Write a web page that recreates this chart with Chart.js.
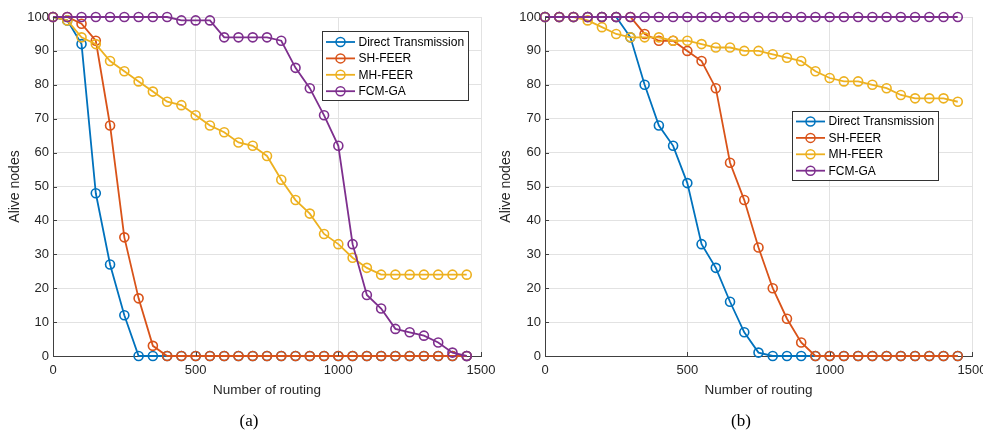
<!DOCTYPE html>
<html><head><meta charset="utf-8">
<script src="https://cdn.jsdelivr.net/npm/chart.js@4.4.1/dist/chart.umd.min.js"></script>
<style>
html,body{margin:0;padding:0;background:#fff;width:983px;height:432px;overflow:hidden;}
#wa{position:absolute;left:0;top:0;width:500px;height:432px;}
#wb{position:absolute;left:491px;top:0;width:492px;height:432px;}
.cap{position:absolute;font-family:"Liberation Serif","Times New Roman",serif;font-size:17px;line-height:20px;color:#000;top:411px;transform:translateX(-50%);}
</style></head><body>
<div id="wa"><canvas id="ca"></canvas></div>
<div id="wb"><canvas id="cb"></canvas></div>
<div class="cap" style="left:249px">(a)</div>
<div class="cap" style="left:741px">(b)</div>
<script>
const routing = [0,50,100,150,200,250,300,350,400,450,500,550,600,650,700,750,800,850,900,950,1000,1050,1100,1150,1200,1250,1300,1350,1400,1450];
const seriesNames = ['Direct Transmission','SH-FEER','MH-FEER','FCM-GA'];
const seriesColors = ['#0072BD','#D95319','#EDB120','#7E2F8E'];
const xTicks = [0,500,1000,1500];
const yTicks = [0,10,20,30,40,50,60,70,80,90,100];

// (a)
const directA = [100,99,92,48,27,12,0,0,0,0,0,0,0,0,0,0,0,0,0,0,0,0,0,0,0,0,0,0,0,0];
const shA     = [100,100,98,93,68,35,17,3,0,0,0,0,0,0,0,0,0,0,0,0,0,0,0,0,0,0,0,0,0,0];
const mhA     = [100,99,94,92,87,84,81,78,75,74,71,68,66,63,62,59,52,46,42,36,33,29,26,24,24,24,24,24,24,24];
const fcmA    = [100,100,100,100,100,100,100,100,100,99,99,99,94,94,94,94,93,85,79,71,62,33,18,14,8,7,6,4,1,0];
// (b)
const directB = [100,100,100,100,100,100,94,80,68,62,51,33,26,16,7,1,0,0,0,0,0,0,0,0,0,0,0,0,0,0];
const shB     = [100,100,100,100,100,100,100,95,93,93,90,87,79,57,46,32,20,11,4,0,0,0,0,0,0,0,0,0,0,0];
const mhB     = [100,100,100,99,97,95,94,94,94,93,93,92,91,91,90,90,89,88,87,84,82,81,81,80,79,77,76,76,76,75];
const fcmB    = [100,100,100,100,100,100,100,100,100,100,100,100,100,100,100,100,100,100,100,100,100,100,100,100,100,100,100,100,100,100];

const FONT = '"Liberation Sans", Arial, Helvetica, sans-serif';
const TXT = '#262626';

const mlPlugin = {
  id: 'ml',
  afterDraw(chart, args, opts) {
    const ctx = chart.ctx, xs = chart.scales.x, ys = chart.scales.y, a = chart.chartArea;
    ctx.save();
    ctx.strokeStyle = '#404040'; ctx.lineWidth = 1;
    ys.ticks.forEach(t => {
      const y = Math.round(ys.getPixelForValue(t.value)) + 0.5;
      ctx.beginPath(); ctx.moveTo(a.left, y); ctx.lineTo(a.left + 4, y); ctx.stroke();
    });
    xs.ticks.forEach(t => {
      const x = Math.round(xs.getPixelForValue(t.value)) + 0.5;
      ctx.beginPath(); ctx.moveTo(x, a.bottom); ctx.lineTo(x, a.bottom - 4); ctx.stroke();
    });
    // legend
    const L = opts.left, T = opts.top, W = 146, rowH = 16.4, H = 69;
    ctx.fillStyle = '#fff';
    ctx.fillRect(L, T, W, H);
    ctx.strokeStyle = '#333'; ctx.lineWidth = 1;
    ctx.strokeRect(Math.round(L) + 0.5, Math.round(T) + 0.5, W, H);
    ctx.font = '12px ' + FONT;
    ctx.textBaseline = 'middle'; ctx.textAlign = 'left';
    chart.data.datasets.forEach((ds, i) => {
      const y = T + 11 + i * rowH;
      ctx.strokeStyle = ds.borderColor; ctx.lineWidth = 1.8;
      ctx.beginPath(); ctx.moveTo(L + 4, y); ctx.lineTo(L + 33, y); ctx.stroke();
      ctx.lineWidth = 1.5;
      ctx.beginPath(); ctx.arc(L + 18.5, y, 4.5, 0, Math.PI * 2); ctx.stroke();
      ctx.fillStyle = '#000';
      ctx.fillText(ds.label, L + 36.5, y + 0.5);
    });
    ctx.restore();
  }
};

function makeChart(id, arrays, yAxisW, padRight, legendPos) {
  const datasets = arrays.map((arr, i) => ({
    label: seriesNames[i],
    data: routing.map((x, k) => ({x: x, y: arr[k]})),
    borderColor: seriesColors[i],
    backgroundColor: 'rgba(0,0,0,0)',
    pointBackgroundColor: 'rgba(0,0,0,0)',
    pointBorderColor: seriesColors[i],
    pointStyle: 'circle',
    pointRadius: 4.5,
    pointBorderWidth: 1.6,
    borderWidth: 1.8,
    tension: 0,
    clip: 8,
    order: 4 - i
  }));
  return new Chart(document.getElementById(id), {
    type: 'line',
    data: {datasets},
    plugins: [mlPlugin],
    options: {
      responsive: true, maintainAspectRatio: false, animation: false,
      events: [],
      layout: {padding: {left: 0, right: padRight, top: 17, bottom: 32}},
      plugins: {legend: {display: false}, tooltip: {enabled: false}, ml: legendPos},
      scales: {
        x: {
          type: 'linear', min: 0, max: 1500,
          afterBuildTicks(s) { s.ticks = xTicks.map(v => ({value: v})); },
          afterFit(s) { s.height = 44; s.paddingLeft = 0; s.paddingRight = 0; },
          grid: {color: '#e2e2e2', lineWidth: 1, drawTicks: false},
          border: {display: true, color: '#404040', width: 1},
          ticks: {color: TXT, font: {family: FONT, size: 13}, padding: 7, autoSkip: false, maxRotation: 0, callback: v => String(v)},
          title: {display: true, text: 'Number of routing', color: TXT, font: {family: FONT, size: 13.5}, padding: {top: 0, bottom: 2}}
        },
        y: {
          type: 'linear', min: 0, max: 100,
          afterBuildTicks(s) { s.ticks = yTicks.map(v => ({value: v})); },
          afterFit(s) { s.width = yAxisW; s.paddingTop = 0; s.paddingBottom = 0; },
          grid: {color: '#e2e2e2', lineWidth: 1, drawTicks: false},
          border: {display: true, color: '#404040', width: 1},
          ticks: {color: TXT, font: {family: FONT, size: 13}, padding: 4, autoSkip: false, callback: v => String(v)},
          title: {display: true, text: 'Alive nodes', color: TXT, font: {family: FONT, size: 14}, padding: {top: 6.5, bottom: 0}}
        }
      }
    }
  });
}

makeChart('ca', [directA, shA, mhA, fcmA], 53, 19, {left: 322, top: 31});
makeChart('cb', [directB, shB, mhB, fcmB], 54, 11, {left: 301, top: 110.5});
</script>
</body></html>
